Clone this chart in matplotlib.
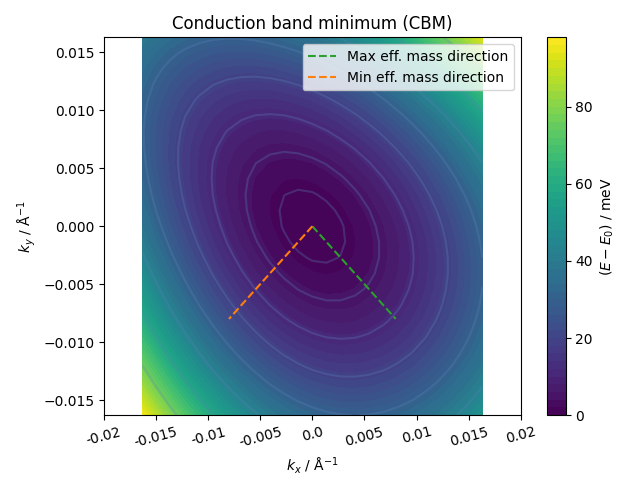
import numpy as np
import matplotlib
matplotlib.use("Agg")
import matplotlib.pyplot as plt

# k-grid extent (1/Angstrom) and number of points per axis
k_extent = 0.0163
n_points = 25

# Fitted band coefficients (meV)
quad_coeffs = {"xx": 131000.0, "yy": 131000.0, "xy": 94000.0}
cubic_coeffs = {"xxx": -700000.0, "xxy": -1400000.0, "xyy": 1100000.0, "yyy": 600000.0}

# Effective mass direction end points (1/Angstrom)
max_dir_kx = [0.0, 0.008]
max_dir_ky = [0.0, -0.008]
min_dir_kx = [0.0, -0.008]
min_dir_ky = [0.0, -0.008]

xtick_values = [-0.02, -0.015, -0.01, -0.005, 0.0, 0.005, 0.01, 0.015, 0.02]
xtick_labels = ["-0.02", "-0.015", "-0.01", "-0.005", "0.0", "0.005", "0.01", "0.015", "0.02"]
cbar_ticks = [0, 20, 40, 60, 80]

kx = np.linspace(-k_extent, k_extent, n_points)
ky = np.linspace(-k_extent, k_extent, n_points)
KX, KY = np.meshgrid(kx, ky)
E = (quad_coeffs["xx"] * KX**2 + quad_coeffs["yy"] * KY**2 + quad_coeffs["xy"] * KX * KY
     + cubic_coeffs["xxx"] * KX**3 + cubic_coeffs["xxy"] * KX**2 * KY
     + cubic_coeffs["xyy"] * KX * KY**2 + cubic_coeffs["yyy"] * KY**3)

fig, ax = plt.subplots(figsize=(6.4, 4.8), dpi=100)
cf = ax.contourf(KX, KY, E, levels=50, cmap="viridis")
line_levels = np.linspace(0, np.sqrt(E.max()), 10)[1:] ** 2
ax.contour(KX, KY, E, levels=line_levels, colors="#5a80b8", alpha=0.3, linewidths=1.5)

ax.plot(max_dir_kx, max_dir_ky, "--", color="#2ca02c", label="Max eff. mass direction")
ax.plot(min_dir_kx, min_dir_ky, "--", color="#ff7f0e", label="Min eff. mass direction")

ax.set_xlim(-0.02, 0.02)
ax.set_xticks(xtick_values)
ax.set_xticklabels(xtick_labels)
ax.set_xlabel(r"$k_x$ / Å$^{-1}$")
ax.set_ylabel(r"$k_y$ / Å$^{-1}$")
ax.set_title("Conduction band minimum (CBM)")
ax.legend(loc="upper right")

cb = fig.colorbar(cf, ax=ax)
cb.set_ticks(cbar_ticks)
cb.set_label(r"$(E-E_0)$ / meV")

fig.tight_layout()
plt.setp(ax.get_xticklabels(), rotation=15)
fig.savefig("out.png", dpi=100)
